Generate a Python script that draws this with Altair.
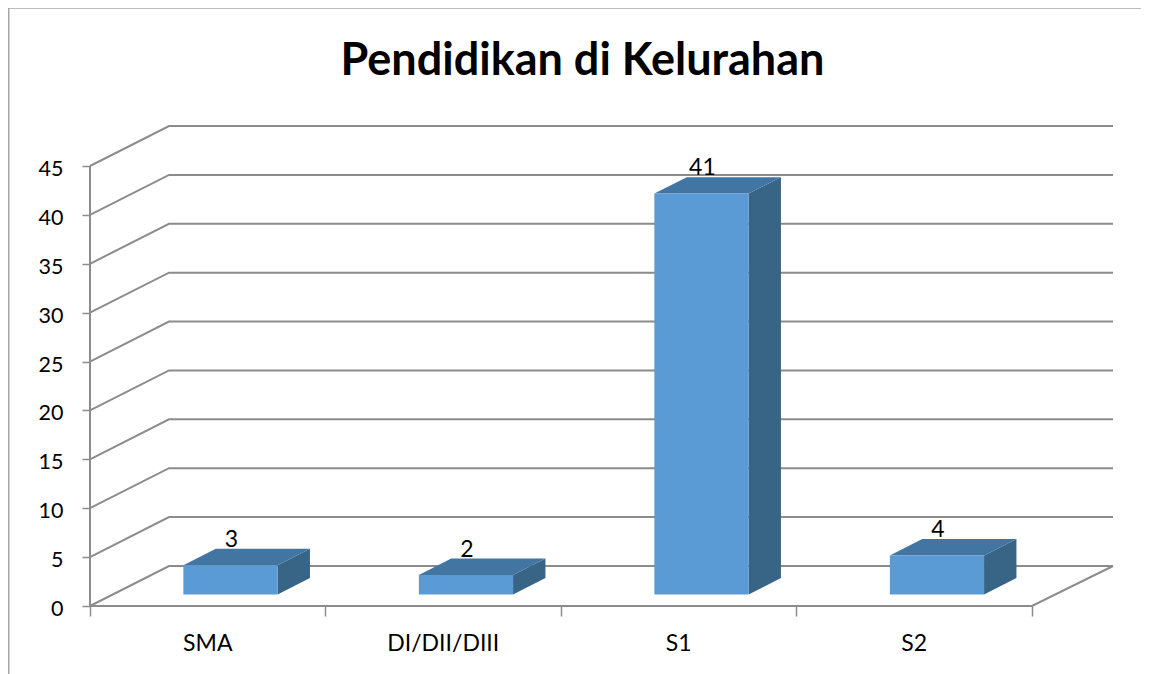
import altair as alt
import pandas as pd

TITLE = "Pendidikan di Kelurahan"
categories = ["SMA", "DI/DII/DIII", "S1", "S2"]
values = [3, 2, 41, 4]
y_ticks = [0, 5, 10, 15, 20, 25, 30, 35, 40, 45]
x_ticks = [0, 1, 2, 3, 4]

# oblique projection, in scale units (one category wide, one count high)
WALL_DX = 0.3355
WALL_DY = 4.09
X_MAX = 4.344
Y_MAX = 45 + WALL_DY
BAR_W = 0.40
NEAR = 0.2875   # fraction of the floor depth where the bar's front stands
DEPTH = 0.41    # fraction of the floor depth that the bar occupies

FRONT = "#5B9BD5"
TOP = "#4375A2"
SIDE = "#386486"
GRID = "#8C8C8C"
FONT = "Lato"

x_scale = alt.Scale(domain=[0, X_MAX], nice=False, zero=False)
y_scale = alt.Scale(domain=[0, Y_MAX], nice=False, zero=False)

# frame lines
lines = []
for v in y_ticks:
    lines += [
        dict(k=f"g{v}", o=0, x=0, y=v),
        dict(k=f"g{v}", o=1, x=WALL_DX, y=v + WALL_DY),
        dict(k=f"g{v}", o=2, x=X_MAX, y=v + WALL_DY),
    ]
lines += [
    dict(k="axis", o=0, x=0, y=0),
    dict(k="axis", o=1, x=0, y=45),
    dict(k="floor", o=0, x=0, y=0),
    dict(k="floor", o=1, x=4, y=0),
    dict(k="floor", o=2, x=X_MAX, y=WALL_DY),
]
lines_df = pd.DataFrame(lines)

front, side, top, labels = [], [], [], []
for i, (c, v) in enumerate(zip(categories, values)):
    cx = i + 0.5 + NEAR * WALL_DX
    x0, x1 = cx - BAR_W / 2, cx + BAR_W / 2
    y0 = NEAR * WALL_DY
    ddx, ddy = DEPTH * WALL_DX, DEPTH * WALL_DY
    front.append(dict(x=x0, x2=x1, y=y0, y2=y0 + v))
    side += [
        dict(k=c, x=x1, y=y0, y2=y0 + v),
        dict(k=c, x=x1 + ddx, y=y0 + ddy, y2=y0 + ddy + v),
    ]
    top += [
        dict(k=c, y=y0 + v, x=x0, x2=x1),
        dict(k=c, y=y0 + v + ddy, x=x0 + ddx, x2=x1 + ddx),
    ]
    labels.append(dict(x=cx, y=y0 + v + ddy, t=str(v)))
front_df = pd.DataFrame(front)
side_df = pd.DataFrame(side)
top_df = pd.DataFrame(top)
labels_df = pd.DataFrame(labels)
cats_df = pd.DataFrame({"x": [i + 0.5 for i in range(len(categories))], "t": categories})

X = alt.X("x:Q", scale=x_scale, title=None,
          axis=alt.Axis(values=x_ticks, labels=False, domain=False, grid=False,
                        tickSize=10, tickWidth=1.5, tickColor=GRID))
Y = alt.Y("y:Q", scale=y_scale, title=None,
          axis=alt.Axis(values=y_ticks, domain=False, grid=False, tickSize=8, tickWidth=1.5,
                        tickColor=GRID, labelFont=FONT, labelFontSize=21.5, labelColor="black",
                        labelPadding=19, labelOffset=3.5))
Xp = alt.X("x:Q", scale=x_scale)
Yp = alt.Y("y:Q", scale=y_scale)

grid = alt.Chart(lines_df).mark_line(color=GRID, strokeWidth=2).encode(x=X, y=Y, detail="k:N", order="o:Q")
side_l = alt.Chart(side_df).mark_area(color=SIDE, orient="vertical").encode(
    x=Xp, y=Yp, y2="y2:Q", detail="k:N")
top_l = alt.Chart(top_df).mark_area(color=TOP, orient="horizontal").encode(
    y=Yp, x=Xp, x2="x2:Q", detail="k:N")
front_l = alt.Chart(front_df).mark_rect(color=FRONT).encode(x=Xp, x2="x2:Q", y=Yp, y2="y2:Q")
val_l = alt.Chart(labels_df).mark_text(font=FONT, fontSize=23, color="black", dy=-9, dx=1).encode(
    x=Xp, y=Yp, text="t:N")
cat_l = alt.Chart(cats_df).mark_text(font=FONT, fontSize=23, color="black").encode(
    x=Xp, y=alt.value(518), text="t:N")
border_top = alt.Chart(pd.DataFrame({"a": [0]})).mark_rule(color="#A6A6A6", strokeWidth=1.5).encode(
    x=alt.value(-82), x2=alt.value(1051), y=alt.value(-118))
border_left = alt.Chart(pd.DataFrame({"a": [0]})).mark_rule(color="#A6A6A6", strokeWidth=3).encode(
    x=alt.value(-82), y=alt.value(-118), y2=alt.value(548))

chart = alt.layer(grid, side_l, top_l, front_l, val_l, cat_l, border_top, border_left).properties(
    width=1023,
    height=480,
    padding={"left": 82, "top": 118, "right": 28, "bottom": 68},
    autosize=alt.AutoSizeParams(type="none"),
    title=alt.TitleParams(TITLE, font=FONT, fontSize=45, fontWeight="bold", color="black",
                          anchor="middle", dx=-19, offset=-77),
).configure_view(stroke=None)

chart.save("out.html", embed_options={"renderer": "svg", "actions": False})
